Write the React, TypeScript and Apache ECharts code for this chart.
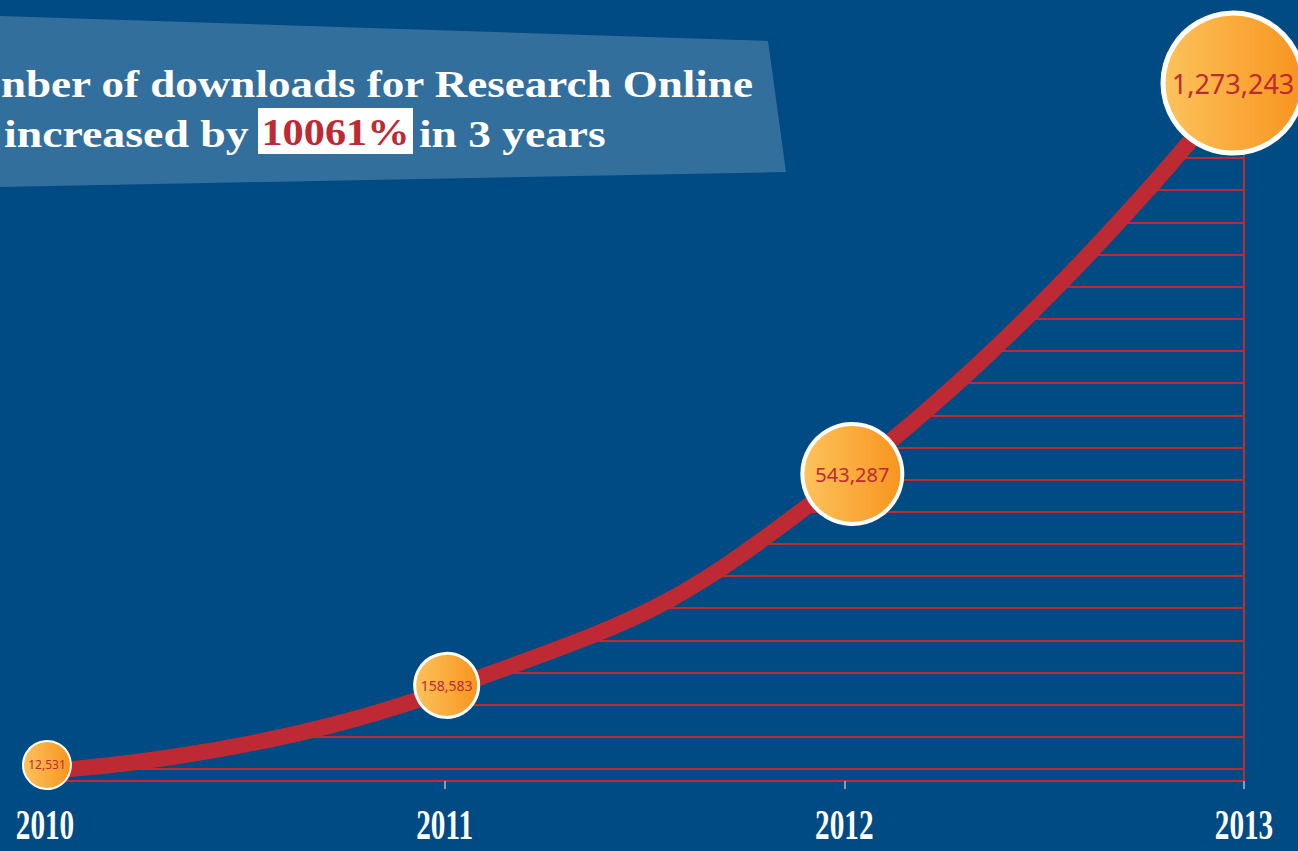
import React, { useEffect, useRef } from "react";
import * as echarts from "echarts";

const years = ["2010", "2011", "2012", "2013"];
const downloads = [12531, 158583, 543287, 1273243];
const bubbleSizes = [48, 64, 100, 140];
const bubbleFontSizes = [12, 14, 20, 27];
const bubbleBorders = [2, 3, 4, 5];
const bubbleOffsets = [[2, -6], [2, -5], [8, -4], [-11, 8]];

const titleLine1 = "nber of downloads for Research Online";
const titleLine2a = "increased by";
const titleHighlight = "10061%";
const titleLine2b = "in 3 years";

const BG = "#004b84";
const RED = "#be2a33";
const TITLE_FONT = "Liberation Serif, serif";

export default function App() {
  const ref = useRef<HTMLDivElement>(null);

  useEffect(() => {
    const chart = echarts.init(ref.current!, null, { renderer: "svg" });
    const bubbleFill = new echarts.graphic.LinearGradient(0, 0, 1, 0, [
      { offset: 0, color: "#fdc35c" },
      { offset: 1, color: "#f7941e" },
    ]);

    chart.setOption({
      animation: false,
      backgroundColor: BG,
      grid: { left: 45, right: 54, top: 61.5, bottom: 70 },
      xAxis: {
        type: "category",
        data: years,
        boundaryGap: false,
        axisLine: { show: true, onZero: false, lineStyle: { color: RED, width: 2 } },
        axisTick: { show: true, length: 8, lineStyle: { color: "#8c99aa", width: 2 } },
        axisLabel: { show: false },
        splitLine: { show: false },
      },
      yAxis: [
        {
          type: "value",
          min: -5600,
          max: 1297900,
          show: false,
          splitLine: { show: false },
        },
        {
          type: "value",
          inverse: true,
          min: 0,
          max: 22.373,
          interval: 1,
          position: "right",
          axisLine: { show: true, onZero: false, lineStyle: { color: RED, width: 2 } },
          axisTick: { show: false },
          axisLabel: { show: false },
          splitLine: { show: true, showMinLine: false, lineStyle: { color: RED, width: 2 } },
        },
      ],
      series: [
        {
          type: "line",
          data: downloads,
          yAxisIndex: 0,
          smooth: 0.5,
          symbol: "none",
          clip: false,
          lineStyle: { color: RED, width: 16 },
          areaStyle: { color: BG, opacity: 1, origin: "end" },
          z: 3,
        },
        {
          type: "scatter",
          yAxisIndex: 0,
          z: 5,
          data: downloads.map((v, i) => ({
            value: v,
            symbolSize: bubbleSizes[i],
            symbolOffset: bubbleOffsets[i],
            itemStyle: {
              color: bubbleFill,
              opacity: 1,
              borderColor: "#ffffff",
              borderWidth: bubbleBorders[i],
            },
            label: {
              show: true,
              position: "inside",
              fontSize: bubbleFontSizes[i],
              fontFamily: "Noto Sans, sans-serif",
              color: RED,
              formatter: () => v.toLocaleString("en-US"),
            },
          })),
        },
      ],
    });

    const yearLabels = years.map((y) => {
      const px = chart.convertToPixel({ xAxisIndex: 0 }, y) as number;
      return {
        type: "text",
        x: px,
        y: 824,
        scaleX: 0.68,
        style: {
          text: y,
          fill: "#ffffff",
          fontFamily: "Liberation Serif, serif",
          fontWeight: "bold",
          fontSize: 43,
          align: "center",
          verticalAlign: "middle",
        },
        z: 20,
      };
    });

    const titleStyle = {
      fill: "#ffffff",
      fontFamily: TITLE_FONT,
      fontWeight: "bold",
      fontSize: 38.5,
      verticalAlign: "middle",
    };

    chart.setOption({
      graphic: [
        {
          type: "polygon",
          shape: { points: [[0, 16], [768, 41], [786, 172], [0, 187]] },
          style: { fill: "rgba(255,255,255,0.2)" },
          z: 10,
        },
        {
          type: "rect",
          shape: { x: 258, y: 108, width: 155, height: 46 },
          style: { fill: "#ffffff" },
          z: 11,
        },
        {
          type: "text",
          x: 1,
          y: 84.5,
          scaleX: 1.17,
          style: { ...titleStyle, text: titleLine1, align: "left" },
          z: 12,
        },
        {
          type: "text",
          x: 4,
          y: 133.5,
          scaleX: 1.19,
          style: { ...titleStyle, text: titleLine2a, align: "left" },
          z: 12,
        },
        {
          type: "text",
          x: 335.5,
          y: 132,
          scaleX: 1.1,
          style: { ...titleStyle, text: titleHighlight, fill: RED, align: "center" },
          z: 12,
        },
        {
          type: "text",
          x: 419,
          y: 133.5,
          scaleX: 1.18,
          style: { ...titleStyle, text: titleLine2b, align: "left" },
          z: 12,
        },
        ...yearLabels,
      ],
    });

    return () => chart.dispose();
  }, []);

  return (
    <div
      ref={ref}
      style={{ position: "fixed", left: 0, top: 0, width: 1298, height: 851 }}
    />
  );
}
